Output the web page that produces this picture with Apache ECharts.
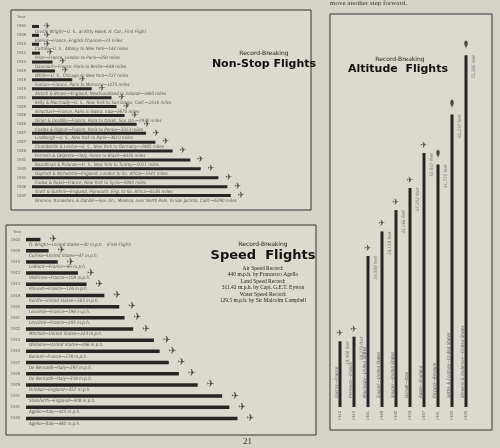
<!DOCTYPE html>
<html>
<head>
<meta charset="utf-8">
<script src="https://cdn.jsdelivr.net/npm/echarts@6/dist/echarts.min.js"></script>
<style>html,body{margin:0;padding:0;background:#d5d2c6}#main{width:500px;height:448px}</style>
</head>
<body>
<div id="main"></div>
<script>
// Non-stop flights (miles)
var nsYears = ['1903','1909','1910','1911','1913','1919','1919','1919','1923','1925','1926','1926','1927','1927','1928','1931','1933','1933','1936','1937'];
var nsMiles = [0, 23, 143, 250, 649, 727, 1275, 1890, 2516, 2675, 2930, 3313, 3610, 3905, 4450, 5011, 5341, 5900, 6185, 6290];
var nsText = [
  'Orville Wright—U. S., at Kitty Hawk, N. Car., First Flight',
  'Blériot—France, English Channel—23 miles',
  'Curtiss—U. S., Albany to New York—143 miles',
  'Prier—France, London to Paris—250 miles',
  'Daucourt—France, Paris to Berlin—649 miles',
  'White—U. S., Chicago to New York—727 miles',
  'Fontan—France, Paris to Morocco—1275 miles',
  'Alcock & Brown—England, Newfoundland to Ireland—1890 miles',
  'Kelly & Macready—U. S., New York to San Diego, Calif.—2516 miles',
  'Arrachart—France, Paris to Basra, Iraq—2675 miles',
  'Girier & Dordilly—France, Paris to Omsk, Sov. Un.—2930 miles',
  'Costes & Rignot—France, Paris to Persia—3313 miles',
  'Lindbergh—U. S., New York to Paris—3610 miles',
  'Chamberlin & Levine—U. S., New York to Germany—3905 miles',
  'Ferrarin & Delprete—Italy, Rome to Brazil—4450 miles',
  'Boardman & Polando—U. S., New York to Turkey—5011 miles',
  'Gayford & Nicholetts—England, London to So. Africa—5341 miles',
  'Codos & Rossi—France, New York to Syria—5900 miles',
  'Scott & Guthrie—England, Plymouth, Eng. to So. Africa—6185 miles',
  'Gromov, Yumashev, & Danilin—Sov. Un., Moskva, over North Pole, to San Jacinto, Calif.—6290 miles'
];

// Speed flights (m.p.h.)
var spYears = ['1903','1909','1910','1912','1913','1919','1920','1921','1922','1923','1924','1927','1928','1929','1931','1931','1934'];
var spMph = [30, 47, 66, 108, 126, 163, 194, 205, 223, 266, 278, 297, 318, 357, 408, 423, 440];
var spText = [
  'O. Wright—United States—30 m.p.h.   (First Flight)',
  'Curtiss—United States—47 m.p.h.',
  'LeBlanc—France—66 m.p.h.',
  'Védrines—France—108 m.p.h.',
  'Prevost—France—126 m.p.h.',
  'Rohlfs—United States—163 m.p.h.',
  'Lecointe—France—194 m.p.h.',
  'Lecointe—France—205 m.p.h.',
  'Mitchell—United States—223 m.p.h.',
  'Williams—United States—266 m.p.h.',
  'Bonnet—France—278 m.p.h.',
  'De Bernardi—Italy—297 m.p.h.',
  'De Bernardi—Italy—318 m.p.h.',
  'Orlebar—England—357 m.p.h.',
  'Stainforth—England—408 m.p.h.',
  'Agello—Italy—423 m.p.h.',
  'Agello—Italy—440 m.p.h.'
];

// Altitude flights (feet)
var alYears = ['1912','1913','1921','1929','1930','1934','1937','1931','1933','1935'];
var alFeet = [18406, 19270, 34508, 39140, 43166, 47352, 53937, 51775, 61237, 72395];
var alText = ['Garros—France', 'Perreyon—France', 'Macready—United States', 'Soucek—United States',
  'Soucek—United States', 'Donati—Italy', 'Adam—England', 'Piccard—Belgium',
  'Settle & Fordney—United States', 'Stevens & Anderson—United States'];
var alBalloon = [false, false, false, false, false, false, false, true, true, true];

var ink = '#262626';
var gray = '#5a5a55';
var chart = echarts.init(document.getElementById('main'));

function fmtFeet(v) { return v.toString().replace(/\B(?=(\d{3})+(?!\d))/g, ',') + ' feet'; }

var option = {
  backgroundColor: '#d5d2c6',
  animation: false,
  textStyle: { fontFamily: 'DejaVu Sans Condensed' },
  graphic: [
    { type: 'rect', shape: { x: 11, y: 10, width: 300, height: 200 }, style: { fill: '#dcd9ce', stroke: '#333', lineWidth: 1 } },
    { type: 'rect', shape: { x: 6, y: 225, width: 310, height: 210 }, style: { fill: '#dcd9ce', stroke: '#333', lineWidth: 1 } },
    { type: 'rect', shape: { x: 330, y: 14, width: 162, height: 416 }, style: { fill: '#dcd9ce', stroke: '#333', lineWidth: 1 } },
    { type: 'text', left: 330, top: 0, style: { text: 'move another step forward.', font: '7px "Liberation Serif"', fill: '#333' } },
    { type: 'text', left: 243, top: 437, style: { text: '21', font: '9px "Liberation Serif"', fill: '#333' } },
    { type: 'text', left: 17, top: 15, style: { text: 'Year', font: '4px sans-serif', fill: gray } },
    { type: 'text', left: 13, top: 230, style: { text: 'Year', font: '4px sans-serif', fill: gray } },
    { type: 'text', x: 264, y: 50, style: { text: 'Record-Breaking', font: '6px "DejaVu Sans"', fill: '#222', align: 'center' } },
    { type: 'text', x: 264, y: 59, style: { text: 'Non-Stop Flights', font: 'bold 11px "DejaVu Sans"', fill: '#111', align: 'center' } },
    { type: 'text', x: 400, y: 56, style: { text: 'Record-Breaking', font: '6px "DejaVu Sans"', fill: '#222', align: 'center' } },
    { type: 'text', x: 398, y: 64, style: { text: 'Altitude  Flights', font: 'bold 11px "DejaVu Sans"', fill: '#111', align: 'center' } },
    { type: 'text', x: 263, y: 241, style: { text: 'Record-Breaking', font: '6px "DejaVu Sans"', fill: '#222', align: 'center' } },
    { type: 'text', x: 263, y: 249, style: { text: 'Speed  Flights', font: 'bold 13px "DejaVu Sans"', fill: '#111', align: 'center' } },
    { type: 'text', x: 263, y: 265, style: { text: 'Air Speed Record:\n440 m.p.h. by Francesco Agello\nLand Speed Record:\n311.42 m.p.h. by Capt. G.E.T. Eyston\nWater Speed Record:\n129.5 m.p.h. by Sir Malcolm Campbell', font: '5.5px "Liberation Serif"', lineHeight: 6.5, fill: '#222', align: 'center' } }
  ],
  grid: [
    { left: 32, top: 22, width: 218, height: 178 },
    { left: 26, top: 234, width: 250, height: 190 },
    { left: 333, top: 15, width: 140, height: 392 }
  ],
  xAxis: [
    { gridIndex: 0, type: 'value', min: 0, max: 6900, show: false },
    { gridIndex: 1, type: 'value', min: 0, max: 520, show: false },
    { gridIndex: 2, type: 'category', data: alYears, axisLine: { show: false }, axisTick: { show: false },
      axisLabel: { rotate: 90, fontSize: 4, color: gray, margin: 4 } }
  ],
  yAxis: [
    { gridIndex: 0, type: 'category', data: nsYears, inverse: true, axisLine: { show: false }, axisTick: { show: false },
      axisLabel: { fontSize: 4, color: gray, margin: 6 } },
    { gridIndex: 1, type: 'category', data: spYears, inverse: true, axisLine: { show: false }, axisTick: { show: false },
      axisLabel: { fontSize: 4, color: gray, margin: 6 } },
    { gridIndex: 2, type: 'value', min: 6000, max: 80000, show: false }
  ],
  series: [
    {
      type: 'bar', xAxisIndex: 0, yAxisIndex: 0, data: nsMiles, barWidth: 3, barMinHeight: 7,
      itemStyle: { color: ink },
      label: { show: true, position: 'insideLeft', offset: [-2, 5], fontSize: 4.5, fontStyle: 'italic', color: gray,
        formatter: function (p) { return nsText[p.dataIndex]; } }
    },
    {
      type: 'scatter', xAxisIndex: 0, yAxisIndex: 0, symbolSize: 0,
      data: nsMiles.map(function (v, i) { return [Math.max(v, 160), i]; }),
      label: { show: true, position: 'right', formatter: '✈', fontSize: 9, color: ink, offset: [2, 0] }
    },
    {
      type: 'bar', xAxisIndex: 1, yAxisIndex: 1, data: spMph, barWidth: 3.5,
      itemStyle: { color: ink },
      label: { show: true, position: 'insideLeft', offset: [-2, 5], fontSize: 4.5, fontStyle: 'italic', color: gray,
        formatter: function (p) { return spText[p.dataIndex]; } }
    },
    {
      type: 'scatter', xAxisIndex: 1, yAxisIndex: 1, symbolSize: 0,
      data: spMph.map(function (v, i) { return [v, i]; }),
      label: { show: true, position: 'right', formatter: '✈', fontSize: 10, color: ink, offset: [4, 0] }
    },
    {
      type: 'bar', xAxisIndex: 2, yAxisIndex: 2, data: alFeet, barWidth: 3,
      itemStyle: { color: ink },
      label: { show: true, position: 'insideBottom', rotate: 90, align: 'left', verticalAlign: 'middle',
        offset: [4, -3], fontSize: 4.5, fontStyle: 'italic', color: gray,
        formatter: function (p) { return alText[p.dataIndex]; } }
    },
    {
      type: 'scatter', xAxisIndex: 2, yAxisIndex: 2, symbolSize: 0,
      data: alFeet.map(function (v, i) { return [i, v]; }),
      label: { show: true, position: 'insideTopLeft', rotate: 90, align: 'right', verticalAlign: 'middle',
        offset: [5, 3], fontSize: 4.5, fontStyle: 'italic', color: gray,
        formatter: function (p) { return fmtFeet(alFeet[p.dataIndex]); } }
    },
    {
      type: 'scatter', xAxisIndex: 2, yAxisIndex: 2, symbolSize: 0,
      data: alFeet.map(function (v, i) { return alBalloon[i] ? null : [i, v]; }),
      label: { show: true, position: 'top', formatter: '✈', fontSize: 9, color: ink, offset: [0, 2] }
    },
    {
      type: 'scatter', xAxisIndex: 2, yAxisIndex: 2, symbol: 'pin', symbolSize: [6, 10],
      symbolOffset: [0, -6], itemStyle: { color: ink },
      data: alFeet.map(function (v, i) { return alBalloon[i] ? [i, v] : null; })
    }
  ]
};

chart.setOption(option);
</script>
</body>
</html>
